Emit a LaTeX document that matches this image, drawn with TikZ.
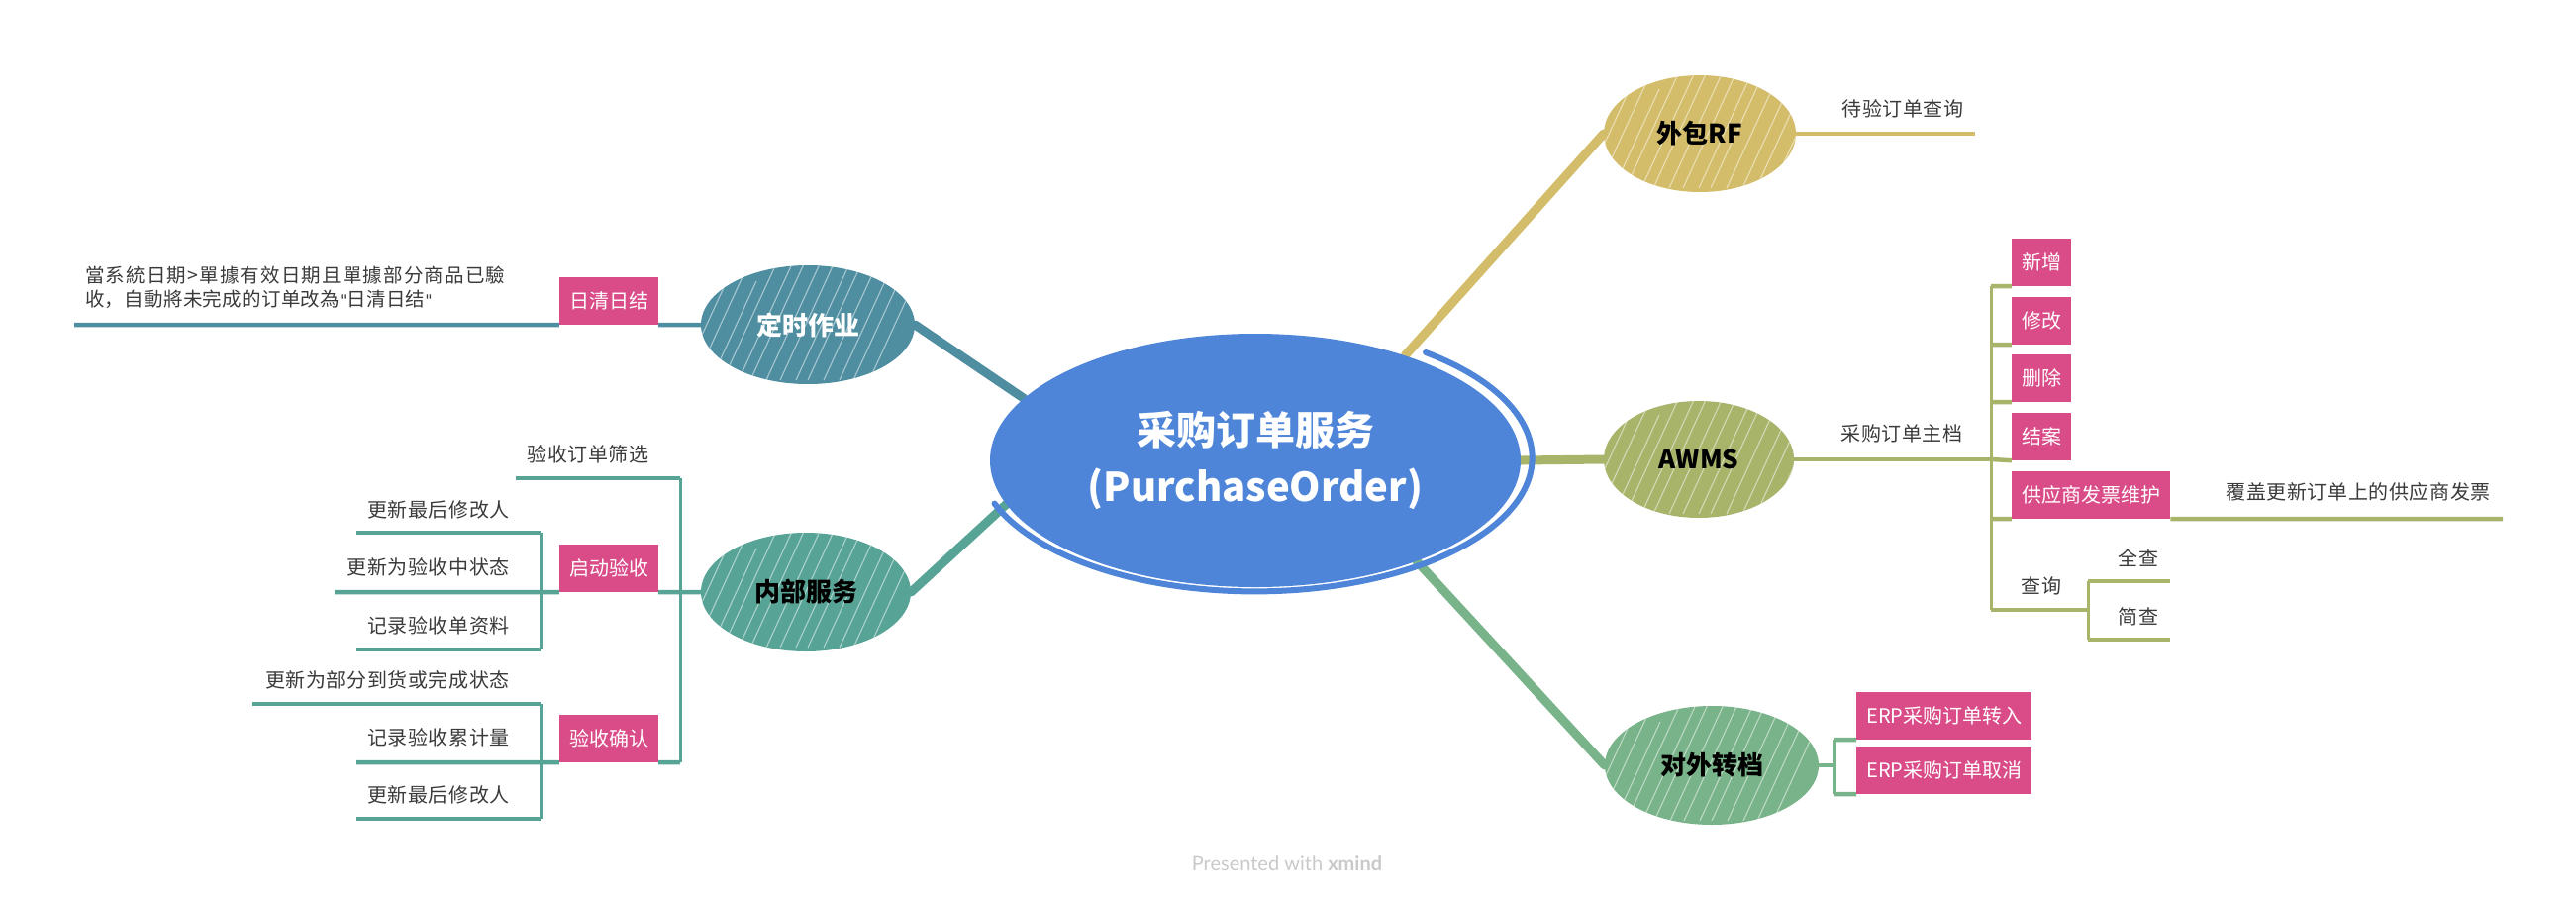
\documentclass[tikz,border=0pt]{standalone}
\usepackage{fontspec}
\setmainfont{Noto Sans CJK SC}
\newfontfamily\plainfont{Noto Sans CJK SC}
\newfontfamily\leaffont{Noto Sans CJK SC}[LetterSpace=3]
\newfontfamily\quotefont{DejaVu Sans}
\newfontfamily\wmfont{Lato}
\usetikzlibrary{shapes.geometric,backgrounds,calc}
\definecolor{cblue}{HTML}{4E85D8}
\definecolor{cgold}{HTML}{D4BD6A}
\definecolor{colive}{HTML}{A9B46B}
\definecolor{cgreen}{HTML}{79B38A}
\definecolor{cteala}{HTML}{4F8EA1}
\definecolor{ctealb}{HTML}{57A496}
\definecolor{cpink}{HTML}{DA4C88}
\definecolor{ctext}{HTML}{3A3A3A}
\definecolor{cwm}{HTML}{C9C9C9}
\newcommand{\sq}{{\quotefont\fontsize{16}{20}\selectfont\char"22}}
\begin{document}
\begin{tikzpicture}[x=1pt,y=-1pt,
  hatch/.style={path picture={
    \foreach \k/\h in {0/90,14/125,30/110,44/130,60/100,72/135,88/120,100/140,116/115,130/135,146/125,158/110,174/130,190/100,204/120,220/90}{
      \draw[white,line width=1.1pt,opacity=.5]
        ($(path picture bounding box.south west)+(\k-50,-4)$) -- ++(0.46*\h,-\h);}}},
  central/.style={ellipse,fill=cblue,minimum width=536pt,minimum height=256pt,inner sep=0pt,
    text=white,align=center,font=\bfseries\fontsize{40}{57}\selectfont},
  topic/.style={ellipse,inner sep=0pt,minimum height=118pt,hatch,
    font=\bfseries\fontsize{26}{30}\selectfont},
  pbox/.style={rectangle,fill=cpink,text=white,inner xsep=10pt,inner ysep=0pt,
    minimum height=48pt,font=\fontsize{20}{24}\selectfont},
  leaf/.style={text=ctext,inner sep=0pt,font=\leaffont\fontsize{20}{24}\selectfont},
  uline/.style={line width=4.5pt},
  brk/.style={line width=3pt},
  mainc/.style={line width=9pt,line cap=round}]
\useasboundingbox (0,0) rectangle (2602,906);

% central topic
\node[central] (c) at (1268,465) {采购订单服务\\(PurchaseOrder)};
\draw[cblue,line width=6pt,line cap=round] (1440,356) arc[start angle=-52,end angle=160,x radius=280,y radius=135];

% main topics
\node[topic,fill=cgold,minimum width=194pt] (trf) at (1717,135) {外包RF};
\node[topic,fill=colive,minimum width=192pt] (tawms) at (1716,464) {AWMS};
\node[topic,fill=cgreen,minimum width=216pt,minimum height=120pt] (terp) at (1729,773) {对外转档};
\node[topic,fill=cteala,minimum width=216pt,minimum height=120pt,text=white] (tds) at (816,328) {定时作业};
\node[topic,fill=ctealb,minimum width=212pt,minimum height=120pt] (tnb) at (814,598) {内部服务};

% pink boxes
\node[pbox] (brq) at (615,304) {日清日结};
\node[pbox] (bqd) at (615,574) {启动验收};
\node[pbox] (bqr) at (615,746) {验收确认};
\node[pbox,anchor=west] (bxz) at (2032,265) {新增};
\node[pbox,anchor=west] (bxg) at (2032,324) {修改};
\node[pbox,anchor=west] (bsc) at (2032,382) {删除};
\node[pbox,anchor=west] (bja) at (2032,441) {结案};
\node[pbox,anchor=west] (bgy) at (2032,500) {供应商发票维护};
\node[pbox,anchor=west] (be1) at (1875,723) {ERP采购订单转入};
\node[pbox,anchor=west] (be2) at (1875,778) {ERP采购订单取消};

% leaves
\node[leaf,anchor=west,align=left,font=\plainfont\fontsize{19.5}{24}\selectfont] (lnote) at (86,290)
  {{\addfontfeatures{LetterSpace=6}當系統日期>單據有效日期且單據部分商品已驗}\\
   {\addfontfeatures{LetterSpace=1.5}收，自動將未完成的订单改為\sq 日清日结\sq}};
\node[leaf] (l1) at (594,459) {验收订单筛选};
\node[leaf,anchor=east] (l2) at (515,515) {更新最后修改人};
\node[leaf,anchor=east] (l3) at (515,573) {更新为验收中状态};
\node[leaf,anchor=east] (l4) at (515,632) {记录验收单资料};
\node[leaf,anchor=east] (l5) at (515,687) {更新为部分到货或完成状态};
\node[leaf,anchor=east] (l6) at (515,745) {记录验收累计量};
\node[leaf,anchor=east] (l7) at (515,803) {更新最后修改人};
\node[leaf] (r1) at (1922,110) {待验订单查询};
\node[leaf] (r2) at (1921,438) {采购订单主档};
\node[leaf] (r3) at (2062,592) {查询};
\node[leaf] (r4) at (2160,563) {全查};
\node[leaf] (r5) at (2160,623) {简查};
\node[leaf] (r6) at (2382,497) {覆盖更新订单上的供应商发票};

\node[text=cwm,inner sep=0pt,font=\wmfont\fontsize{20}{24}\selectfont] (wm) at (1300,872) {Presented with \textbf{xmind}};

% coordinates
\coordinate (kn) at (75,328);
\coordinate (kbt) at (687,483);
\coordinate (kbb) at (687,770);
\coordinate (k1) at (521,483);
\coordinate (kqt) at (546,538);
\coordinate (kqb) at (546,656);
\coordinate (k2) at (360,538);
\coordinate (k3) at (338,598);
\coordinate (k4) at (360,656);
\coordinate (krt) at (546,711);
\coordinate (krb) at (546,827);
\coordinate (k5) at (255,711);
\coordinate (k6) at (360,770);
\coordinate (k7) at (360,827);
\coordinate (kr1) at (1995,135);
\coordinate (ka) at (2011,464);
\coordinate (kat) at (2011,289);
\coordinate (kax) at (2011,348);
\coordinate (kay) at (2011,406);
\coordinate (kag) at (2011,524);
\coordinate (kaq) at (2011,616);
\coordinate (kq2) at (2109,616);
\coordinate (kqt2) at (2109,587);
\coordinate (kqb2) at (2109,646);
\coordinate (kq3) at (2192,587);
\coordinate (kq4) at (2192,646);
\coordinate (kg) at (2528,524);
\coordinate (ke) at (1853,773);
\coordinate (ket) at (1853,747);
\coordinate (keb) at (1853,802);

\begin{scope}[on background layer]
% main connectors
\draw[mainc,cgold] (c.35) -- (trf.west);
\draw[mainc,colive] (c.east) -- (tawms.west);
\draw[mainc,cgreen] (c.-32) -- (terp.west);
\draw[mainc,cteala] (c.165) -- (tds.east);
\draw[mainc,ctealb] (c.190) -- (tnb.east);
% 定时作业
\draw[uline,cteala] (tds.west) -- (brq.south east);
\draw[uline,cteala] (brq.south west) -- (kn);
% 内部服务
\draw[uline,ctealb] (tnb.west) -- (bqd.south east);
\draw[brk,ctealb] (kbt) -- (kbb);
\draw[uline,ctealb] (kbt) -- (k1);
\draw[uline,ctealb] (kbb) -- (bqr.south east);
\draw[uline,ctealb] (bqd.south west) -- (k3);
\draw[brk,ctealb] (kqt) -- (kqb);
\draw[uline,ctealb] (kqt) -- (k2);
\draw[uline,ctealb] (kqb) -- (k4);
\draw[uline,ctealb] (bqr.south west) -- (k6);
\draw[brk,ctealb] (krt) -- (krb);
\draw[uline,ctealb] (krt) -- (k5);
\draw[uline,ctealb] (krb) -- (k7);
% 外包RF
\draw[uline,cgold] (trf.east) -- (kr1);
% AWMS
\draw[uline,colive] (tawms.east) -- (ka);
\draw[brk,colive] (kat) -- (kaq);
\draw[uline,colive] (kat) -- (bxz.south west);
\draw[uline,colive] (kax) -- (bxg.south west);
\draw[uline,colive] (kay) -- (bsc.south west);
\draw[uline,colive] (ka) -- (bja.south west);
\draw[uline,colive] (kag) -- (bgy.south west);
\draw[uline,colive] (bgy.south east) -- (kg);
\draw[uline,colive] (kaq) -- (kq2);
\draw[brk,colive] (kqt2) -- (kqb2);
\draw[uline,colive] (kqt2) -- (kq3);
\draw[uline,colive] (kqb2) -- (kq4);
% 对外转档
\draw[uline,cgreen] (terp.east) -- (ke);
\draw[brk,cgreen] (ket) -- (keb);
\draw[uline,cgreen] (ket) -- (be1.south west);
\draw[uline,cgreen] (keb) -- (be2.south west);
\end{scope}
\end{tikzpicture}
\end{document}
